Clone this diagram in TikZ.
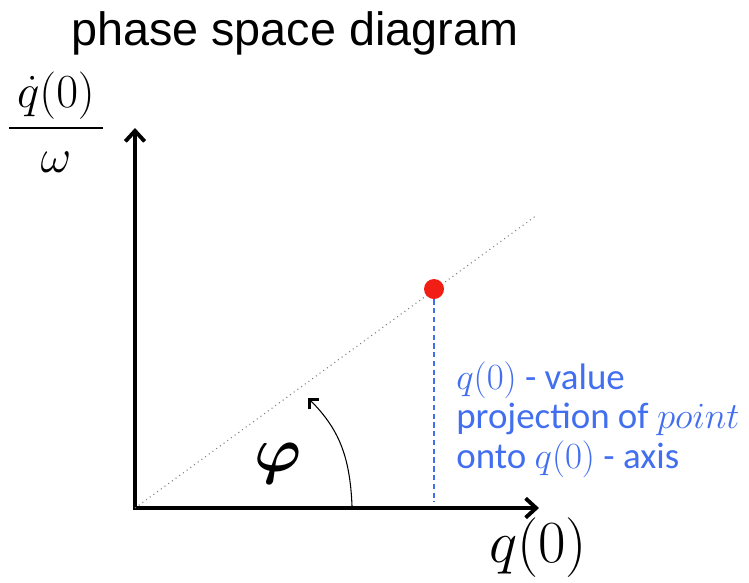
\RequirePackage{fix-cm}
\documentclass[tikz,border=0pt]{standalone}
\usepackage{amsmath}
\usepackage{fontspec}
\newfontfamily\titlefont{Liberation Sans}
\newfontfamily\notefont{Carlito}
\usetikzlibrary{arrows.meta,positioning}
\definecolor{noteblue}{RGB}{66,110,240}
\definecolor{dotred}{RGB}{240,30,20}

\begin{document}
\begin{tikzpicture}[x=0.02cm, y=-0.02cm,
    axis/.style={line width=2.2pt, {Straight Barb[length=6pt,width=11pt,line width=2.2pt]}-{Straight Barb[length=6pt,width=11pt,line width=2.2pt]}},
    ray/.style={gray, dotted, line width=0.6pt},
    proj/.style={noteblue, line width=0.6pt, dash pattern=on 3pt off 2pt},
    angarrow/.style={line width=0.6pt, -{Straight Barb[length=4pt,width=8pt,line width=1.5pt]}}]
    \useasboundingbox (0,0) rectangle (749,582);

    % Title
    \node[anchor=base west, inner sep=0, font=\titlefont\fontsize{26.6}{32}\selectfont] (title) at (71,45) {phase space diagram};

    % Axes
    \coordinate (O) at (135,508);
    \coordinate (ytip) at (135,128);
    \coordinate (xtip) at (539,508);
    \coordinate (rayend) at (537,215);
    \draw[axis] (ytip) -- (O) -- (xtip);
    \node[font=\fontsize{27}{32}\selectfont] (ylabel) at (56,122) {$\displaystyle\frac{\,\dot{q}(0)\,}{\omega}$};
    \node[font=\fontsize{34}{40}\selectfont] (xlabel) at (538,548) {$q(0)$};

    % Phase point on the ray
    \draw[ray] (O) -- (rayend);
    \node[circle, fill=dotred, inner sep=0, minimum size=20*0.02cm] (pt) at (434,289) {};
    \coordinate (foot) at (434,502);
    \draw[proj] (pt) -- (foot);

    % Angle
    \coordinate (arcstart) at (352,506);
    \coordinate (arcend) at (308,398);
    \draw[angarrow] (arcstart) .. controls (350,455) and (338,428) .. (arcend);
    \node[font=\fontsize{36}{44}\selectfont] (phi) at (278,464) {$\boldsymbol{\varphi}$};

    % Note
    \node[anchor=north west, inner sep=0, align=left, text=noteblue,
          font=\notefont\fontsize{21}{22.7}\selectfont] (note) at (456,361)
          {$q(0)$ - value\\ projection of $point$\\ onto $q(0)$ - axis};
\end{tikzpicture}
\end{document}
